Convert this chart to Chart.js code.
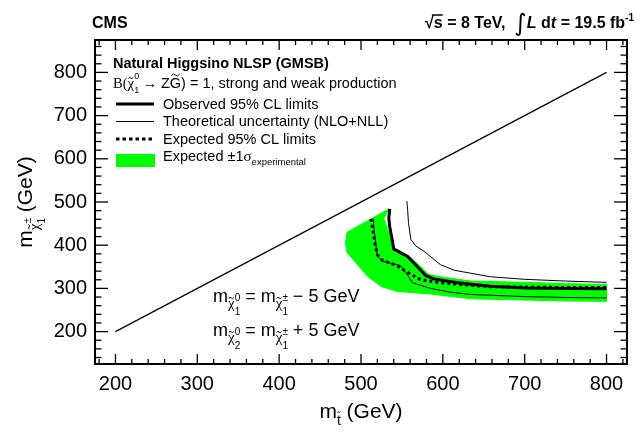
<!DOCTYPE html>
<html>
<head>
<meta charset="utf-8">
<script src="https://cdn.jsdelivr.net/npm/chart.js@4.4.1/dist/chart.umd.min.js"></script>
<style>
  html, body { margin: 0; padding: 0; background: #fff; }
  canvas { display: block; }
</style>
</head>
<body>
<canvas id="chart" width="644" height="433"></canvas>
<script>
// stop mass (x) vs chargino mass (y), both in GeV
const massTicks = [200, 300, 400, 500, 600, 700, 800];

const observedX = [535, 534, 535, 538, 540, 546, 557, 571, 579, 589, 618, 658, 700, 750, 800];
const observedY = [484, 463, 444, 413, 391, 385, 374, 346, 330, 322, 313, 305, 301, 300, 299];

const expectedX = [512, 513, 515, 517, 520, 526, 544, 557, 573, 597, 658, 700, 750, 800];
const expectedY = [461, 452, 429, 405, 378, 365, 353, 337, 320, 313, 304, 303, 302, 302];

const theoryUpX = [556, 557, 558, 561, 567, 577, 597, 614, 658, 700, 750, 800];
const theoryUpY = [502, 482, 452, 413, 398, 386, 355, 342, 327, 321, 317, 314];

const theoryDownX = [515, 516, 518, 520, 526, 548, 555, 563, 585, 610, 634, 700, 750, 800];
const theoryDownY = [461, 436, 405, 374, 363, 353, 336, 313, 300, 291, 286, 281, 279, 278];

// expected +-1 sigma band, closed outline
const bandX = [483, 534, 528, 532, 537, 541, 548, 561, 575, 583, 597, 634, 700, 750, 800, 800, 750, 700, 634, 585, 544, 524, 508, 483, 481, 483];
const bandY = [430, 484, 462, 440, 413, 393, 386, 371, 347, 332, 327, 317, 314, 311, 309, 270, 271, 273, 276, 287, 293, 305, 328, 383, 405, 430];

// kinematic limit m(chargino) = m(stop)
const diagonalX = [200, 800];
const diagonalY = [200, 800];

const pts = (xs, ys) => xs.map((x, i) => ({ x: x, y: ys[i] }));

const SANS = 'Liberation Sans';
const SERIF = 'Liberation Serif';

function drawTilde(ctx, cx, cy, w) {
  const h = w * 0.18;
  const x0 = cx - w / 2;
  ctx.save();
  ctx.lineWidth = 1;
  ctx.beginPath();
  ctx.moveTo(x0, cy + h * 0.6);
  ctx.quadraticCurveTo(x0 + w * 0.25, cy - h * 1.6, x0 + w * 0.5, cy);
  ctx.quadraticCurveTo(x0 + w * 0.75, cy + h * 1.6, x0 + w, cy - h * 0.6);
  ctx.stroke();
  ctx.restore();
}

// draws a row of text pieces (sub/superscripts via dy, keep = no advance)
function rich(ctx, x, y, segs, align) {
  let w = 0;
  segs.forEach(s => {
    ctx.font = s.f;
    if (!s.keep) w += ctx.measureText(s.t).width;
  });
  let cx = align === 'center' ? x - w / 2 : align === 'right' ? x - w : x;
  segs.forEach(s => {
    ctx.font = s.f;
    const sw = ctx.measureText(s.t).width;
    const by = y + (s.dy || 0);
    ctx.fillText(s.t, cx, by);
    if (s.tilde) drawTilde(ctx, cx + sw / 2 + (s.tx || 0), by - s.tilde, sw * 0.75);
    if (s.over) {
      ctx.save();
      ctx.lineWidth = 1.5;
      ctx.beginPath();
      ctx.moveTo(cx - 2, by - s.over);
      ctx.lineTo(cx + sw, by - s.over);
      ctx.stroke();
      ctx.restore();
    }
    if (!s.keep) cx += sw;
  });
}

const frame = {
  id: 'frame',
  afterDatasetsDraw(chart) {
    const { ctx, chartArea: a, scales: { x, y } } = chart;
    const seg = (x1, y1, x2, y2) => {
      ctx.beginPath();
      ctx.moveTo(x1, y1);
      ctx.lineTo(x2, y2);
      ctx.stroke();
    };
    ctx.save();
    ctx.strokeStyle = '#000';
    ctx.lineWidth = 1.3;
    for (let v = 180; v <= 820; v += 20) {
      const px = x.getPixelForValue(v);
      const len = v % 100 === 0 ? 10 : 5;
      seg(px, a.bottom, px, a.bottom - len);
      seg(px, a.top, px, a.top + len);
    }
    for (let v = 140; v <= 860; v += 20) {
      const py = y.getPixelForValue(v);
      const len = v % 100 === 0 ? 13 : 6.5;
      seg(a.left, py, a.left + len, py);
      seg(a.right, py, a.right - len, py);
    }
    ctx.lineWidth = 2;
    ctx.strokeRect(a.left, a.top, a.width, a.height);
    ctx.restore();
  }
};

const labels = {
  id: 'labels',
  afterDraw(chart) {
    const ctx = chart.ctx;
    const a = chart.chartArea;
    ctx.save();
    ctx.fillStyle = '#000';
    ctx.strokeStyle = '#000';
    ctx.textAlign = 'left';
    ctx.textBaseline = 'alphabetic';

    // header
    ctx.font = 'bold 16px ' + SANS;
    ctx.fillText('CMS', 92, 28);
    const hb = 'bold 16px ' + SANS;
    const hi = 'italic bold 16px ' + SANS;
    rich(ctx, 634, 28, [
      { t: '\u221A', f: hb },
      { t: 's', f: hb, over: 13 },
      { t: ' = 8 TeV,  ', f: hb },
      { t: '\u222B', f: '24px DejaVu Sans', dy: 3 },
      { t: 'L', f: hi },
      { t: ' d', f: hb },
      { t: 't', f: hi },
      { t: ' = 19.5 fb', f: hb },
      { t: '-1', f: 'bold 10px ' + SANS, dy: -7 }
    ], 'right');

    // legend block
    const lf = '14.5px ' + SANS;
    ctx.font = 'bold 14.5px ' + SANS;
    ctx.fillText('Natural Higgsino NLSP (GMSB)', 113, 68);
    rich(ctx, 113, 88, [
      { t: 'B(', f: '14.5px ' + SERIF },
      { t: '\u03C7', f: '15px ' + SERIF, tilde: 10 },
      { t: '1', f: '9px ' + SANS, dy: 5, keep: true },
      { t: '0', f: '9px ' + SANS, dy: -9 },
      { t: ' \u2192 ', f: '14.5px ' + SERIF },
      { t: 'Z', f: lf },
      { t: 'G', f: lf, tilde: 13 },
      { t: ') = 1, strong and weak production', f: lf }
    ], 'left');

    const sx0 = 116, sx1 = 154, tx = 163;
    ctx.lineWidth = 3;
    ctx.beginPath(); ctx.moveTo(sx0, 104); ctx.lineTo(sx1, 104); ctx.stroke();
    ctx.lineWidth = 1;
    ctx.beginPath(); ctx.moveTo(sx0, 121.5); ctx.lineTo(sx1, 121.5); ctx.stroke();
    ctx.lineWidth = 3;
    ctx.setLineDash([3.5, 3]);
    ctx.beginPath(); ctx.moveTo(sx0, 139); ctx.lineTo(sx1, 139); ctx.stroke();
    ctx.setLineDash([]);
    ctx.fillStyle = '#00ff00';
    ctx.fillRect(sx0, 154, sx1 - sx0 + 1, 13);
    ctx.fillStyle = '#000';
    ctx.font = lf;
    ctx.fillText('Observed 95% CL limits', tx, 108.5);
    ctx.fillText('Theoretical uncertainty (NLO+NLL)', tx, 126);
    ctx.fillText('Expected 95% CL limits', tx, 143.5);
    rich(ctx, tx, 161, [
      { t: 'Expected \u00B11', f: lf },
      { t: '\u03C3', f: '15px ' + SERIF },
      { t: 'experimental', f: '9.5px ' + SANS, dy: 4 }
    ], 'left');

    // mass relations
    const af = '18px ' + SANS;
    const chi = '15px ' + SERIF;
    const idx = '10px ' + SANS;
    rich(ctx, 213, 302, [
      { t: 'm', f: af },
      { t: '\u03C7', f: chi, dy: 6, tilde: 10 },
      { t: '1', f: idx, dy: 13, keep: true },
      { t: '0', f: idx, dy: -1 },
      { t: ' = m', f: af },
      { t: '\u03C7', f: chi, dy: 6, tilde: 10 },
      { t: '1', f: idx, dy: 13, keep: true },
      { t: '\u00B1', f: idx, dy: -1 },
      { t: ' \u2212 5 GeV', f: af }
    ], 'left');
    rich(ctx, 213, 336, [
      { t: 'm', f: af },
      { t: '\u03C7', f: chi, dy: 6, tilde: 10 },
      { t: '2', f: idx, dy: 13, keep: true },
      { t: '0', f: idx, dy: -1 },
      { t: ' = m', f: af },
      { t: '\u03C7', f: chi, dy: 6, tilde: 10 },
      { t: '1', f: idx, dy: 13, keep: true },
      { t: '\u00B1', f: idx, dy: -1 },
      { t: ' + 5 GeV', f: af }
    ], 'left');

    // axis titles
    const tf = '21px ' + SANS;
    rich(ctx, (a.left + a.right) / 2, 418, [
      { t: 'm', f: tf },
      { t: 't', f: '14px ' + SANS, dy: 7, tilde: 13 },
      { t: ' (GeV)', f: tf }
    ], 'center');

    ctx.translate(32, (a.top + a.bottom) / 2);
    ctx.rotate(-Math.PI / 2);
    rich(ctx, 0, 0, [
      { t: 'm', f: tf },
      { t: '\u03C7', f: '15px ' + SERIF, dy: 7, tilde: 10 },
      { t: '1', f: '10px ' + SANS, dy: 13, keep: true },
      { t: '\u00B1', f: '10px ' + SANS, dy: -1 },
      { t: ' (GeV)', f: tf }
    ], 'center');
    ctx.restore();
  }
};

const setTicks = scale => {
  scale.ticks = massTicks.map(v => ({ value: v }));
};

const tickFont = { family: SANS, size: 20 };

new Chart(document.getElementById('chart'), {
  type: 'scatter',
  data: {
    datasets: [
      {
        data: pts(observedX, observedY),
        showLine: true, borderColor: '#000', borderWidth: 3,
        pointRadius: 0, fill: false, order: 1
      },
      {
        data: pts(theoryUpX, theoryUpY),
        showLine: true, borderColor: '#000', borderWidth: 1,
        pointRadius: 0, fill: false, order: 2
      },
      {
        data: pts(theoryDownX, theoryDownY),
        showLine: true, borderColor: '#000', borderWidth: 1,
        pointRadius: 0, fill: false, order: 2
      },
      {
        data: pts(expectedX, expectedY),
        showLine: true, borderColor: '#000', borderWidth: 3, borderDash: [3, 3],
        pointRadius: 0, fill: false, order: 1
      },
      {
        data: pts(diagonalX, diagonalY),
        showLine: true, borderColor: '#000', borderWidth: 1.2,
        pointRadius: 0, fill: false, order: 3
      },
      {
        data: pts(bandX, bandY),
        showLine: true, borderColor: '#00ff00', borderWidth: 1,
        backgroundColor: '#00ff00', fill: 'shape',
        pointRadius: 0, order: 5
      }
    ]
  },
  options: {
    responsive: false,
    animation: false,
    devicePixelRatio: 1,
    layout: { padding: { top: 40, right: 17, left: 0, bottom: 0 } },
    plugins: { legend: { display: false }, tooltip: { enabled: false } },
    scales: {
      x: {
        type: 'linear', min: 175, max: 825,
        grid: { display: false, drawTicks: false },
        border: { display: false },
        ticks: { font: tickFont, color: '#000', padding: 8, maxRotation: 0, autoSkip: false },
        afterBuildTicks: setTicks,
        afterFit: s => { s.height = 69; }
      },
      y: {
        type: 'linear', min: 125, max: 875,
        grid: { display: false, drawTicks: false },
        border: { display: false },
        ticks: { font: tickFont, color: '#000', padding: 8, autoSkip: false },
        afterBuildTicks: setTicks,
        afterFit: s => { s.width = 95; }
      }
    }
  },
  plugins: [frame, labels]
});
</script>
</body>
</html>
